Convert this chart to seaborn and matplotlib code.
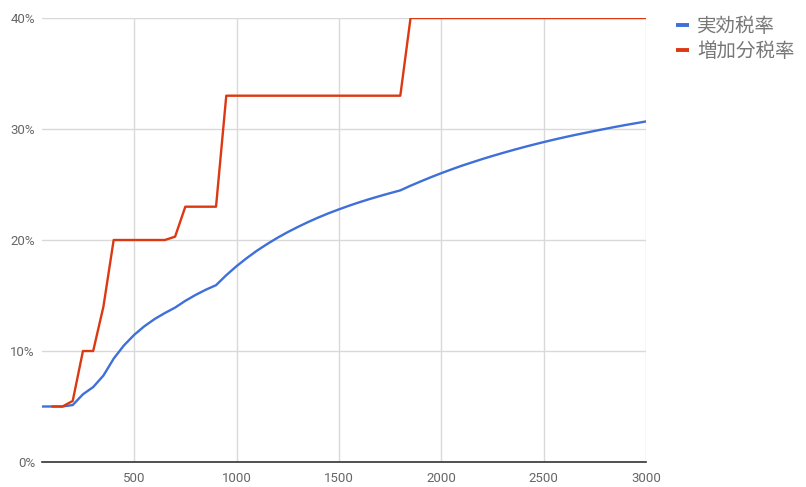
import matplotlib
matplotlib.use("Agg")
import matplotlib.pyplot as plt
import seaborn as sns
import pandas as pd
import numpy as np
from matplotlib.ticker import FuncFormatter, FixedLocator
from matplotlib.lines import Line2D

income = list(range(50, 3001, 50))

effective_rate = [
    5.0, 5.0, 5.0, 5.13, 6.1, 6.75, 7.79, 9.31, 10.5, 11.45,
    12.23, 12.88, 13.42, 13.91, 14.52, 15.05, 15.52, 15.93, 16.83, 17.64,
    18.37, 19.04, 19.64, 20.2, 20.71, 21.18, 21.62, 22.03, 22.41, 22.76,
    23.09, 23.4, 23.69, 23.96, 24.22, 24.47, 24.89, 25.28, 25.66, 26.02,
    26.36, 26.69, 26.99, 27.29, 27.57, 27.84, 28.10, 28.35, 28.59, 28.82,
    29.04, 29.25, 29.45, 29.64, 29.83, 30.01, 30.19, 30.36, 30.52, 30.68,
]

marginal_rate = [
    np.nan, 5.0, 5.0, 5.5, 10.0, 10.0, 14.0, 20.0, 20.0, 20.0,
    20.0, 20.0, 20.0, 20.3, 23.0, 23.0, 23.0, 23.0, 33.0, 33.0,
    33.0, 33.0, 33.0, 33.0, 33.0, 33.0, 33.0, 33.0, 33.0, 33.0,
    33.0, 33.0, 33.0, 33.0, 33.0, 33.0, 40.0, 40.0, 40.0, 40.0,
    40.0, 40.0, 40.0, 40.0, 40.0, 40.0, 40.0, 40.0, 40.0, 40.0,
    40.0, 40.0, 40.0, 40.0, 40.0, 40.0, 40.0, 40.0, 40.0, 40.0,
]

series_names = ["実効税率", "増加分税率"]
colors = ["#3f6fd8", "#dc3912"]

y_ticks = [0, 10, 20, 30, 40]
x_ticks = [500, 1000, 1500, 2000, 2500, 3000]

df = pd.DataFrame({
    "income": income * 2,
    "rate": effective_rate + marginal_rate,
    "series": [series_names[0]] * len(income) + [series_names[1]] * len(income),
}).dropna()

sns.set_theme(style="white")
plt.rcParams["font.family"] = ["Roboto", "Noto Sans CJK JP", "DejaVu Sans"]

fig = plt.figure(figsize=(8.06, 4.87), dpi=100)
ax = fig.add_axes([42 / 806, 1 - 462 / 487, (646 - 42) / 806, (462 - 18) / 487])

sns.lineplot(data=df, x="income", y="rate", hue="series", hue_order=series_names,
             palette=colors, linewidth=1.7, ax=ax, legend=False, zorder=3)

ax.set_xlim(50, 3000)
ax.set_ylim(0, 40)
ax.xaxis.set_major_locator(FixedLocator(x_ticks))
ax.yaxis.set_major_locator(FixedLocator(y_ticks))
ax.yaxis.set_major_formatter(FuncFormatter(lambda v, p: f"{int(v)}%"))
ax.grid(True, color="#d9d9d9", linewidth=1.0, zorder=0)
for s in ["top", "right", "left"]:
    ax.spines[s].set_visible(False)
ax.spines["bottom"].set_color("#333333")
ax.spines["bottom"].set_linewidth(1.2)
ax.spines["bottom"].set_zorder(4)
ax.tick_params(axis="both", length=0, labelsize=9.5, labelcolor="#666666")
ax.tick_params(axis="x", pad=7)
ax.tick_params(axis="y", pad=5)
ax.set_xlabel("")
ax.set_ylabel("")

handles = [Line2D([0], [0], color=c, linewidth=2.8, solid_capstyle="butt") for c in colors]
fig.legend(handles, series_names, loc="upper left", bbox_to_anchor=(658 / 806, 1 + 2 / 487),
           frameon=False, handlelength=0.68, handletextpad=0.42, labelspacing=0.22,
           prop={"family": ["Noto Sans CJK JP", "DejaVu Sans"], "size": 14},
           labelcolor="#777777")

fig.savefig("out.png", dpi=100)
